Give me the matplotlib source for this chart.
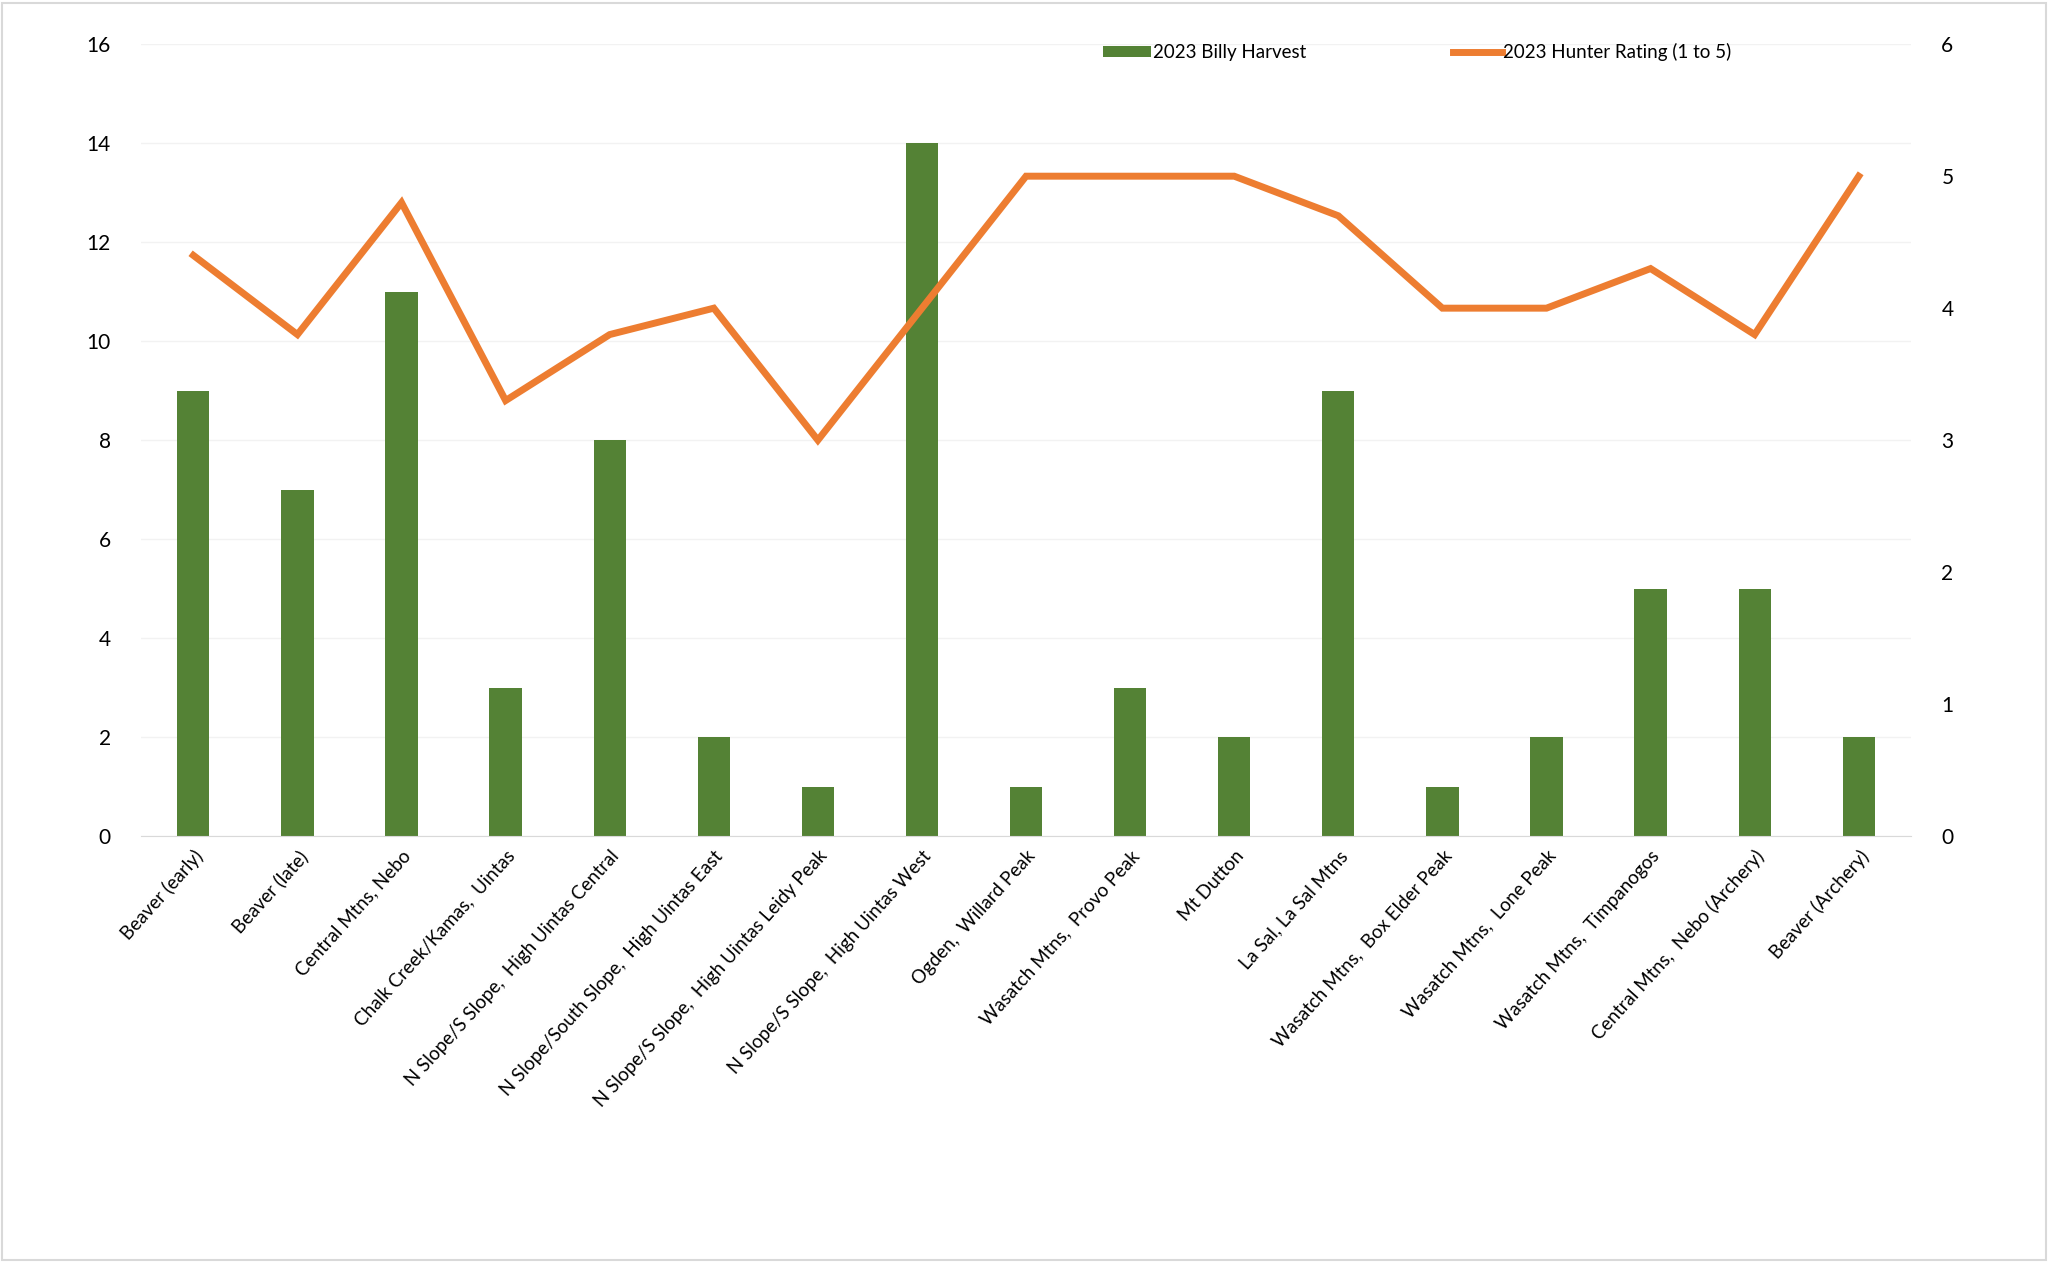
import matplotlib.pyplot as plt
import numpy as np

# Data
units = [
    "Beaver (early)", "Beaver (late)", "Central Mtns, Nebo", "Chalk Creek/Kamas,  Uintas",
    "N Slope/S Slope,  High Uintas Central", "N Slope/South Slope,  High Uintas East",
    "N Slope/S Slope,  High Uintas Leidy Peak", "N Slope/S Slope,  High Uintas West",
    "Ogden,  Willard Peak", "Wasatch Mtns,  Provo Peak", "Mt Dutton", "La Sal, La Sal Mtns",
    "Wasatch Mtns,  Box Elder Peak", "Wasatch Mtns,  Lone Peak", "Wasatch Mtns,  Timpanogos",
    "Central Mtns,  Nebo (Archery)", "Beaver (Archery)",
]
billy_harvest = [9, 7, 11, 3, 8, 2, 1, 14, 1, 3, 2, 9, 1, 2, 5, 5, 2]
hunter_rating = [4.4, 3.8, 4.8, 3.3, 3.8, 4.0, 3.0, 4.0, 5.0, 5.0, 5.0, 4.7, 4.0, 4.0, 4.3, 3.8, 5.0]

green = "#548235"
orange = "#ED7D31"

plt.rcParams['font.family'] = ['Lato', 'DejaVu Sans']

fig = plt.figure(figsize=(20.48, 12.63), dpi=100)
ax = fig.add_axes([0.069, 0.338, 0.864, 0.627])
ax2 = ax.twinx()

x = np.arange(len(units))
bars = ax.bar(x, billy_harvest, width=0.31, color=green, label="2023 Billy Harvest", zorder=2)
line, = ax2.plot(x, hunter_rating, color=orange, linewidth=5, solid_joinstyle='miter',
                 label="2023 Hunter Rating (1 to 5)", zorder=3)

ax.set_xlim(-0.5, len(units) - 0.5)
ax.set_ylim(0, 16)
ax.set_yticks(range(0, 17, 2))
ax2.set_ylim(0, 6)
ax2.set_yticks(range(0, 7))

ax.grid(axis='y', color='#f2f2f2', linewidth=1)
ax.set_axisbelow(True)
for a in (ax, ax2):
    for s in ('top', 'right', 'left', 'bottom'):
        a.spines[s].set_visible(False)
ax.spines['bottom'].set_visible(True)
ax.spines['bottom'].set_color('#d9d9d9')

ax.tick_params(axis='y', length=0, labelsize=15, pad=22)
ax2.tick_params(axis='y', length=0, labelsize=15, pad=22)
ax.tick_params(axis='x', length=0, pad=8)
ax.set_xticks(x)
ax.set_xticklabels(units, rotation=48, ha='right', rotation_mode='anchor', fontsize=13.5)

fig.legend([bars, line], ["2023 Billy Harvest", "2023 Hunter Rating (1 to 5)"], loc='center',
           bbox_to_anchor=(0.692, 0.959), ncol=2, frameon=False, fontsize=13.5,
           columnspacing=7.8, handlelength=2.6, handletextpad=0.1, handleheight=0.55)

# light border around the figure
fig.patches.append(plt.Rectangle((0.001, 0.002), 0.998, 0.996, transform=fig.transFigure,
                                 fill=False, edgecolor='#d9d9d9', linewidth=1.5))

fig.savefig("out.png", dpi=100)
